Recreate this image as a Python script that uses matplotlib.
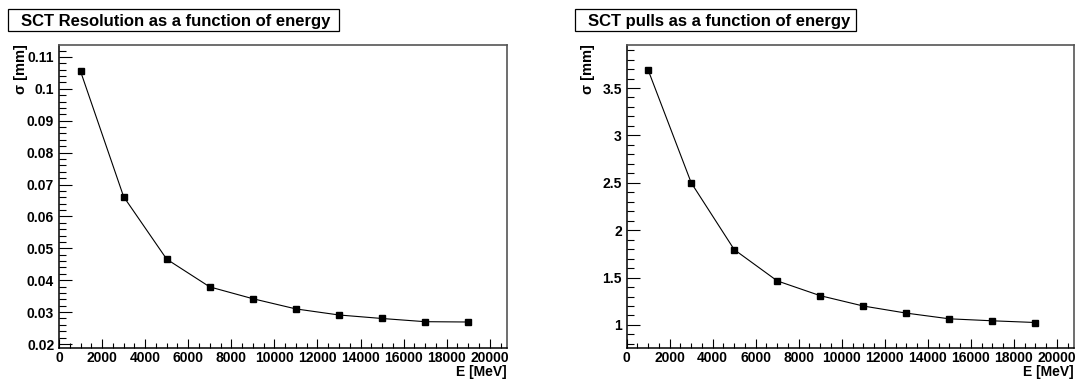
import matplotlib
matplotlib.use("Agg")
import matplotlib.pyplot as plt
from matplotlib.ticker import MultipleLocator, AutoMinorLocator, FuncFormatter
from matplotlib.patches import Rectangle

energy = [1000, 3000, 5000, 7000, 9000, 11000, 13000, 15000, 17000, 19000]
resolution = [0.1055, 0.0662, 0.0466, 0.0379, 0.0342, 0.0310, 0.0291, 0.0280, 0.0270, 0.0269]
pulls = [3.688, 2.50, 1.795, 1.465, 1.309, 1.200, 1.125, 1.065, 1.044, 1.026]

titles = ["SCT Resolution as a function of energy", "SCT pulls as a function of energy"]
xlabel = "E [MeV]"
ylabel = "\u03c3 [mm]"

plt.rcParams['font.family'] = ['Liberation Sans', 'DejaVu Sans']
plt.rcParams['font.weight'] = 'bold'

W, H = 1077, 380
fig = plt.figure(figsize=(W / 100, H / 100), dpi=100)

def px(x0, y0, x1, y1):
    return [x0 / W, 1 - y1 / H, (x1 - x0) / W, (y1 - y0) / H]

fmt = FuncFormatter(lambda v, p: '%g' % round(v, 6))

def root_panel(rect, y, ylim, ymaj, title, box):
    ax = fig.add_axes(rect)
    ax.plot(energy, y, color='black', lw=0.8, marker='s', ms=4.5,
            mfc='black', mec='black', clip_on=False)
    ax.set_xlim(0, 20800)
    ax.set_ylim(*ylim)
    ax.xaxis.set_major_locator(MultipleLocator(2000))
    ax.xaxis.set_minor_locator(AutoMinorLocator(4))
    ax.yaxis.set_major_locator(MultipleLocator(ymaj))
    ax.yaxis.set_minor_locator(AutoMinorLocator(5))
    ax.xaxis.set_major_formatter(fmt)
    ax.yaxis.set_major_formatter(fmt)
    ax.tick_params(which='both', direction='in', top=False, right=False,
                   labelsize=10, width=0.8, color='black')
    ax.tick_params(axis='x', which='major', length=6.5, pad=2.5)
    ax.tick_params(axis='x', which='minor', length=3.3)
    ax.tick_params(axis='y', which='major', length=9.5, pad=3.5)
    ax.tick_params(axis='y', which='minor', length=4.8)
    for lab in ax.get_xticklabels() + ax.get_yticklabels():
        lab.set_fontweight('bold')
    for s in ['left', 'bottom']:
        ax.spines[s].set_linewidth(1.1)
        ax.spines[s].set_color('black')
    for s in ['top', 'right']:
        ax.spines[s].set_linewidth(1.2)
        ax.spines[s].set_color('#555555')
    ax.set_xlabel(xlabel, fontsize=10, fontweight='bold', ha='right', va='top')
    ax.xaxis.set_label_coords(1.0, -0.056)
    ax.set_ylabel(ylabel, fontsize=10.5, fontweight='bold', ha='right', va='bottom')
    ax.yaxis.set_label_coords(-0.07, 1.0)
    # title box
    bx0, by0, bx1, by1 = box
    fig.patches.append(Rectangle((bx0 / W, 1 - by1 / H), (bx1 - bx0) / W, (by1 - by0) / H,
                                 transform=fig.transFigure, fc='white', ec='black', lw=0.9))
    fig.text((bx0 + 13) / W, 1 - ((by0 + by1) / 2) / H, title, fontsize=12,
             fontweight='bold', ha='left', va='center_baseline')
    return ax

root_panel(px(59, 44.5, 507, 348), resolution, (0.01875, 0.1139), 0.01,
           titles[0], (8, 9, 339, 31))
root_panel(px(626.7, 44.5, 1074, 348), pulls, (0.757, 3.959), 0.5,
           titles[1], (575, 9, 856, 31))

fig.savefig("out.png", dpi=100, facecolor='white')
